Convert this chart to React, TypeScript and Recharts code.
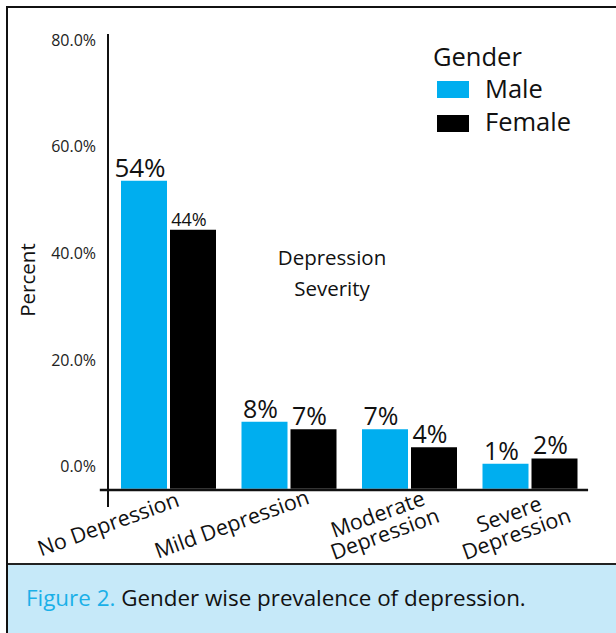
import React from 'react';
import { BarChart, Bar, XAxis, YAxis, Legend, LabelList, ReferenceLine } from 'recharts';

// ---------- data ----------
const CATEGORIES = ['No Depression', 'Mild Depression', 'Moderate\nDepression', 'Severe\nDepression'];
const MALE = [53.6, 8.4, 7.0, 0.5];
const FEMALE = [44.4, 7.0, 3.6, 1.5];
const SERIES_NAMES = ['Male', 'Female'];
const Y_TICKS = [0, 20, 40, 60, 80];
const Y_DOMAIN: [number, number] = [-7.6, 81.1];
const BAR_BASE = -4.2;
const AXIS_BASE = -4.4;
const LEGEND_TITLE = 'Gender';
const X_TITLE_LINES = ['Depression', 'Severity'];
const Y_TITLE = 'Percent';
const CAPTION_LEAD = 'Figure 2.';
const CAPTION_TEXT = ' Gender wise prevalence of depression.';

// ---------- styles ----------
const MALE_COLOR = '#00aeef';
const FEMALE_COLOR = '#000000';
const INK = '#111111';
const FONT = '"Open Sans", sans-serif';
const TICK_DX = [-60, -57, -28, -17];
const TICK_DY = 17;
const MALE_LABEL_SIZE = [26, 25, 25, 25];
const FEMALE_LABEL_SIZE = [18, 25, 25, 25];
// helper axis spanning the plot width in index units; baseline pokes out left of the y axis
const FRAC_DOMAIN: [number, number] = [0, CATEGORIES.length - 1];
const BASELINE_SPAN = [-0.017 * (CATEGORIES.length - 1), 0.996 * (CATEGORIES.length - 1)];

const data = CATEGORIES.map((c, i) => ({
  category: c,
  male: MALE[i],
  female: FEMALE[i],
  maleRange: [BAR_BASE, MALE[i]],
  femaleRange: [BAR_BASE, FEMALE[i]],
}));

const baselineSegment = [
  { x: BASELINE_SPAN[0], y: AXIS_BASE },
  { x: BASELINE_SPAN[1], y: AXIS_BASE },
];

const yTickFormatter = (v: number) => `${v.toFixed(1)}%`;

const renderXTick = (props: any) => {
  const { x, y, payload } = props;
  let index = props.index;
  if (index === undefined || index === null) index = CATEGORIES.indexOf(payload.value);
  const lines = String(payload.value).split('\n');
  const cx = x + (TICK_DX[index] ?? 0);
  const cy = y + TICK_DY;
  const lh = 21;
  return (
    <text
      x={cx}
      y={cy}
      textAnchor="middle"
      transform={`rotate(-20, ${cx}, ${cy})`}
      fontFamily={FONT}
      fontSize={21.5}
      fill={INK}
    >
      {lines.map((l, i) => (
        <tspan key={i} x={cx} dy={i === 0 ? -((lines.length - 1) / 2) * lh + 7.5 : lh}>
          {l}
        </tspan>
      ))}
    </text>
  );
};

const renderYLabel = (props: any) => {
  const vb = props.viewBox || { x: 0, y: 34, width: 108, height: 473 };
  const cx = vb.x + 35;
  const cy = vb.y + vb.height / 2 + 9.5;
  return (
    <text
      x={cx}
      y={cy}
      textAnchor="middle"
      transform={`rotate(-90, ${cx}, ${cy})`}
      fontFamily={FONT}
      fontSize={20.5}
      fill={INK}
    >
      {Y_TITLE}
    </text>
  );
};

const makeLabel = (sizes: number[]) => (props: any) => {
  const { x, y, width, value, index } = props;
  const v = Array.isArray(value) ? value[value.length - 1] : value;
  const size = sizes[index] ?? 25;
  return (
    <text
      x={Number(x) + Number(width) / 2 - 4}
      y={Number(y) - 4}
      textAnchor="middle"
      fontFamily={FONT}
      fontSize={size}
      fill={INK}
    >
      {`${Math.round(Number(v))}%`}
    </text>
  );
};
const renderMaleLabel = makeLabel(MALE_LABEL_SIZE);
const renderFemaleLabel = makeLabel(FEMALE_LABEL_SIZE);

const renderLegend = (props: any) => {
  const payload = [...(props.payload || [])].sort(
    (a: any, b: any) => SERIES_NAMES.indexOf(a.value) - SERIES_NAMES.indexOf(b.value)
  );
  return (
    <div style={{ position: 'relative', width: 170, height: 110, fontFamily: FONT, color: INK }}>
      <div style={{ position: 'absolute', left: 0, top: 4.3, fontSize: 25.5, lineHeight: '25.5px', whiteSpace: 'nowrap' }}>
        {LEGEND_TITLE}
      </div>
      {payload.map((p: any, i: number) => (
        <React.Fragment key={p.value}>
          <div
            style={{
              position: 'absolute',
              left: 4,
              top: 41 + i * 34,
              width: 32,
              height: 17,
              background: p.color,
            }}
          />
          <div
            style={{
              position: 'absolute',
              left: 52,
              top: 36.3 + i * 33,
              fontSize: 25.5,
              lineHeight: '25.5px',
              whiteSpace: 'nowrap',
            }}
          >
            {p.value}
          </div>
        </React.Fragment>
      ))}
    </div>
  );
};

export default function App() {
  return (
    <div
      style={{
        position: 'absolute',
        left: 0,
        top: 0,
        width: 616,
        height: 633,
        background: '#ffffff',
        overflow: 'hidden',
        fontFamily: FONT,
      }}
    >
      {/* frame */}
      <div
        style={{
          position: 'absolute',
          left: 6,
          top: 6,
          width: 610,
          height: 627,
          borderLeft: `2px solid ${INK}`,
          borderTop: `2px solid ${INK}`,
          boxSizing: 'border-box',
        }}
      />
      <div style={{ position: 'absolute', left: 0, top: 0 }}>
        <BarChart
          width={616}
          height={633}
          data={data}
          margin={{ top: 34, right: 26, bottom: 0, left: 0 }}
          barGap={3}
          barSize={46}
        >
          <XAxis
            dataKey="category"
            tickLine={false}
            axisLine={false}
            tickSize={0}
            tickMargin={0}
            height={126}
            interval={0}
            tick={renderXTick}
          />
          <XAxis xAxisId="frac" type="number" domain={FRAC_DOMAIN} allowDataOverflow hide />
          <YAxis
            type="number"
            domain={Y_DOMAIN}
            ticks={Y_TICKS}
            allowDataOverflow
            width={108}
            tickLine={false}
            axisLine={{ stroke: INK, strokeWidth: 2 }}
            tick={{ fontSize: 16, fill: '#222', fontFamily: FONT }}
            tickFormatter={yTickFormatter}
            tickMargin={6}
            label={renderYLabel}
          />
          <Legend
            layout="vertical"
            align="center"
            verticalAlign="middle"
            wrapperStyle={{ left: 433, top: 40, width: 170, height: 110 }}
            content={renderLegend}
          />
          <Bar dataKey="maleRange" name={SERIES_NAMES[0]} fill={MALE_COLOR} isAnimationActive={false}>
            <LabelList dataKey="male" content={renderMaleLabel} />
          </Bar>
          <Bar dataKey="femaleRange" name={SERIES_NAMES[1]} fill={FEMALE_COLOR} isAnimationActive={false}>
            <LabelList dataKey="female" content={renderFemaleLabel} />
          </Bar>
          <ReferenceLine
            xAxisId="frac"
            segment={baselineSegment}
            stroke={INK}
            strokeWidth={2.5}
            ifOverflow="visible"
          />
        </BarChart>
      </div>
      {/* x-variable title */}
      <div
        style={{
          position: 'absolute',
          left: 232,
          top: 241.5,
          width: 200,
          textAlign: 'center',
          fontSize: 20.5,
          lineHeight: '31px',
          color: INK,
        }}
      >
        {X_TITLE_LINES.map((l) => (
          <div key={l}>{l}</div>
        ))}
      </div>
      {/* caption */}
      <div
        style={{
          position: 'absolute',
          left: 8,
          top: 563,
          width: 608,
          height: 70,
          background: '#c6e9f9',
          borderTop: `2px solid #222`,
          boxSizing: 'border-box',
        }}
      />
      <div
        style={{
          position: 'absolute',
          left: 26,
          top: 584.3,
          fontSize: 22.4,
          lineHeight: '28px',
          whiteSpace: 'nowrap',
          color: INK,
        }}
      >
        <span style={{ color: '#1ab0e8' }}>{CAPTION_LEAD}</span>
        {CAPTION_TEXT}
      </div>
    </div>
  );
}
